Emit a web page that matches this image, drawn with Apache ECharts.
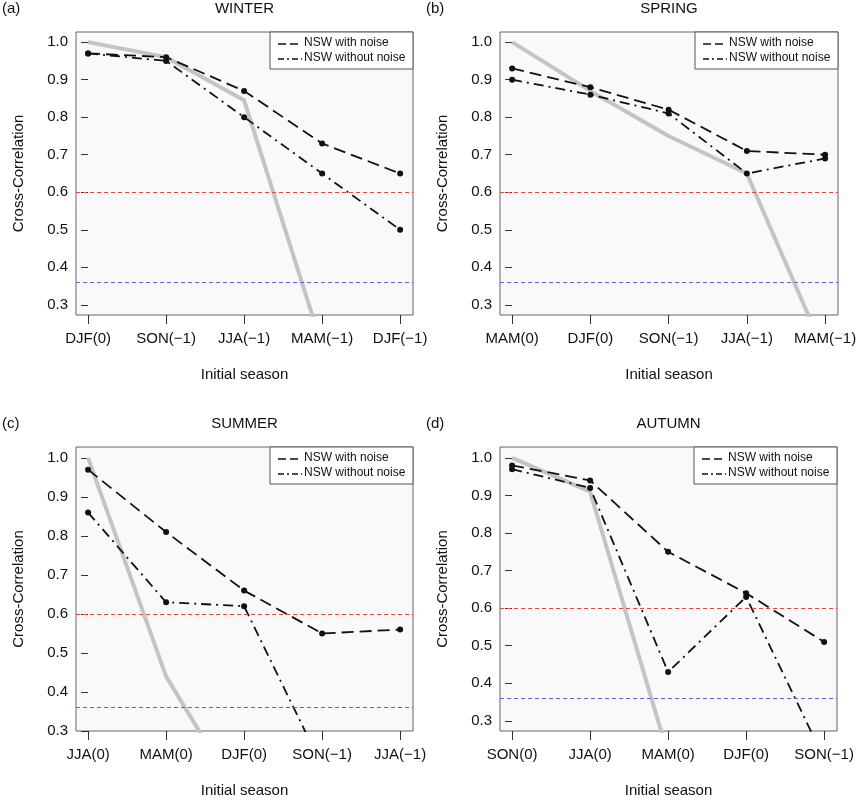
<!DOCTYPE html>
<html><head><meta charset="utf-8">
<script src="https://cdn.jsdelivr.net/npm/echarts@6/dist/echarts.min.js"></script>
<style>html,body{margin:0;background:#fff}#c{width:863px;height:801px}</style>
</head><body><div id="c"></div>
<script>
const catsWinter = ['DJF(0)','SON(−1)','JJA(−1)','MAM(−1)','DJF(−1)'];
const catsSpring = ['MAM(0)','DJF(0)','SON(−1)','JJA(−1)','MAM(−1)'];
const catsSummer = ['JJA(0)','MAM(0)','DJF(0)','SON(−1)','JJA(−1)'];
const catsAutumn = ['SON(0)','JJA(0)','MAM(0)','DJF(0)','SON(−1)'];

const winterWith = [0.97,0.96,0.87,0.73,0.65];
const winterWithout = [0.97,0.95,0.80,0.65,0.50];
const winterGray = [1.0,0.96,0.845,0.19];
const springWith = [0.93,0.88,0.82,0.71,0.70];
const springWithout = [0.90,0.86,0.81,0.65,0.69];
const springGray = [1.0,0.87,0.75,0.65,0.17];
const summerWith = [0.97,0.81,0.66,0.55,0.56];
const summerWithout = [0.86,0.63,0.62,0.21];
const summerGray = [1.0,0.44,0.11];
const autumnWith = [0.98,0.94,0.75,0.64,0.51];
const autumnWithout = [0.97,0.92,0.43,0.63,0.20];
const autumnGray = [1.0,0.91,0.21];

const yTicks = [0.3,0.4,0.5,0.6,0.7,0.8,0.9,1.0];
const redLine = 0.6, blueLine = 0.36;

const panels = [
 {tag:'(a)',title:'WINTER',cats:catsWinter,w:winterWith,wo:winterWithout,g:winterGray,left:76,top:32,width:337,height:283,ymin:0.273,ymax:1.027},
 {tag:'(b)',title:'SPRING',cats:catsSpring,w:springWith,wo:springWithout,g:springGray,left:500,top:32,width:338,height:283,ymin:0.273,ymax:1.027},
 {tag:'(c)',title:'SUMMER',cats:catsSummer,w:summerWith,wo:summerWithout,g:summerGray,left:76,top:447,width:337,height:284,ymin:0.3,ymax:1.028},
 {tag:'(d)',title:'AUTUMN',cats:catsAutumn,w:autumnWith,wo:autumnWithout,g:autumnGray,left:500,top:447,width:337,height:284,ymin:0.273,ymax:1.029}
];
const font = 'Liberation Sans, Arial, sans-serif';
const pairs = a => a.map((v,i)=>[i,v]);
const opt = {animation:false,backgroundColor:'#fff',grid:[],xAxis:[],yAxis:[],series:[],graphic:[]};
panels.forEach((p,k)=>{
  opt.grid.push({left:p.left,top:p.top,width:p.width,height:p.height,show:true,backgroundColor:'#f9f9f9',borderColor:'#666',borderWidth:1});
  opt.xAxis.push({type:'value',gridIndex:k,min:-0.155,max:4.165,
    axisLine:{show:false},splitLine:{show:false},
    axisTick:{show:true,customValues:[0,1,2,3,4],length:9,lineStyle:{color:'#333'}},
    axisLabel:{customValues:[0,1,2,3,4],formatter:v=>p.cats[Math.round(v)],color:'#111',fontSize:15,fontFamily:font,margin:16},
    name:'Initial season',nameLocation:'middle',nameGap:52,nameTextStyle:{fontSize:15,color:'#111',fontFamily:font}});
  opt.yAxis.push({type:'value',gridIndex:k,min:p.ymin,max:p.ymax,
    axisLine:{show:false},splitLine:{show:false},
    axisTick:{show:true,customValues:yTicks,length:7,lineStyle:{color:'#333'}},
    axisLabel:{customValues:yTicks,formatter:v=>v.toFixed(1),color:'#111',fontSize:15,fontFamily:font,margin:8},
    name:'Cross-Correlation',nameLocation:'middle',nameGap:50,nameTextStyle:{fontSize:15,color:'#111',fontFamily:font}});
  opt.series.push({type:'line',xAxisIndex:k,yAxisIndex:k,data:pairs(p.g),symbol:'none',clip:true,
    lineStyle:{color:'#c4c4c4',width:4},z:1,
    markLine:{silent:true,symbol:'none',label:{show:false},data:[
      {yAxis:redLine,lineStyle:{color:'#ee4444',type:[4,3],width:1}},
      {yAxis:blueLine,lineStyle:{color:'#5566dd',type:[4,3],width:1}}]}});
  opt.series.push({type:'line',name:'NSW with noise',xAxisIndex:k,yAxisIndex:k,data:pairs(p.w),clip:true,
    symbol:'circle',symbolSize:6,itemStyle:{color:'#111'},lineStyle:{color:'#111',width:1.8,type:[12,6]},z:3});
  opt.series.push({type:'line',name:'NSW without noise',xAxisIndex:k,yAxisIndex:k,data:pairs(p.wo),clip:true,
    symbol:'circle',symbolSize:6,itemStyle:{color:'#111'},lineStyle:{color:'#111',width:1.8,type:[10,5,2,5]},z:3});
  const cx = p.left + p.width/2;
  opt.graphic.push({type:'text',left:p.left-74,top:p.top-31,style:{text:p.tag,fontSize:15,fontFamily:font,fill:'#111'}});
  opt.graphic.push({type:'text',x:cx,y:p.top-31,style:{text:p.title,fontSize:15,fontFamily:font,fill:'#111',align:'center'}});
  const bx = p.left+p.width-143, by = p.top;
  opt.graphic.push({type:'rect',shape:{x:bx,y:by,width:143,height:37},style:{fill:'#fff',stroke:'#555',lineWidth:1},z:10});
  opt.graphic.push({type:'line',shape:{x1:bx+8,y1:by+12,x2:bx+32,y2:by+12},style:{stroke:'#111',lineWidth:1.5,lineDash:[8,4]},z:11});
  opt.graphic.push({type:'line',shape:{x1:bx+8,y1:by+27,x2:bx+32,y2:by+27},style:{stroke:'#111',lineWidth:1.5,lineDash:[6,3,2,3]},z:11});
  opt.graphic.push({type:'text',x:bx+34,y:by+5,style:{text:'NSW with noise',fontSize:12,fontFamily:font,fill:'#111'},z:11});
  opt.graphic.push({type:'text',x:bx+34,y:by+20,style:{text:'NSW without noise',fontSize:12,fontFamily:font,fill:'#111'},z:11});
});
echarts.init(document.getElementById('c')).setOption(opt);
</script></body></html>
